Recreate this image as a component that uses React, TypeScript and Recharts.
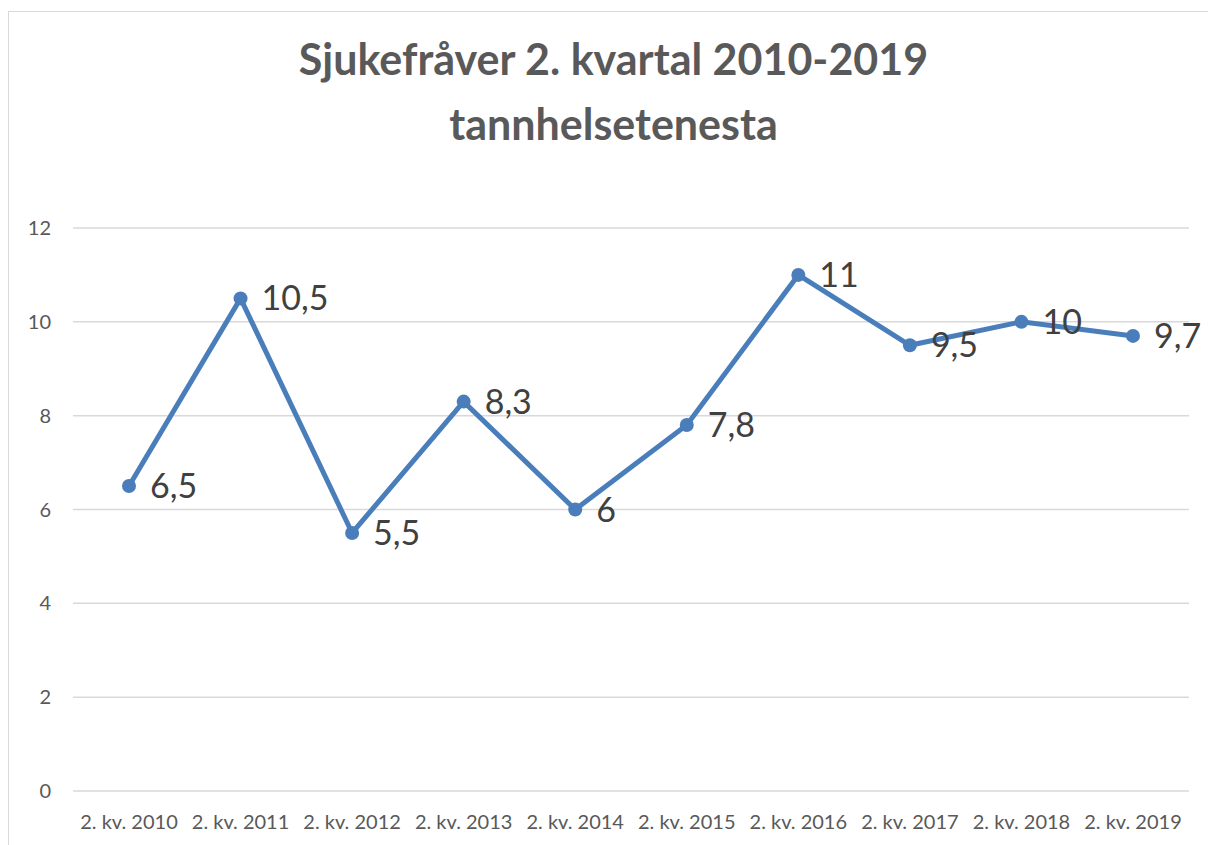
import { LineChart, Line, XAxis, YAxis, CartesianGrid, LabelList } from "recharts";

// kategoriar og verdiar lest av biletet
const quarters = [
  "2. kv. 2010",
  "2. kv. 2011",
  "2. kv. 2012",
  "2. kv. 2013",
  "2. kv. 2014",
  "2. kv. 2015",
  "2. kv. 2016",
  "2. kv. 2017",
  "2. kv. 2018",
  "2. kv. 2019",
];
const sickLeave = [6.5, 10.5, 5.5, 8.3, 6, 7.8, 11, 9.5, 10, 9.7];
const yTicks = [0, 2, 4, 6, 8, 10, 12];

const data = quarters.map((q, i) => ({ name: q, value: sickLeave[i] }));

const FONT = "Lato, 'Open Sans', sans-serif";

export default function App() {
  return (
    <div
      style={{
        position: "absolute",
        left: 0,
        top: 0,
        width: 1208,
        height: 845,
        overflow: "hidden",
        background: "#fff",
        fontFamily: FONT,
      }}
    >
      {/* chart frame */}
      <div
        style={{
          position: "absolute",
          left: 8,
          top: 11,
          width: 1260,
          height: 900,
          border: "1.5px solid #d9d9d9",
        }}
      />
      {/* title */}
      <div
        style={{
          position: "absolute",
          left: 0,
          top: 26,
          width: 1227,
          textAlign: "center",
          fontSize: 43,
          fontWeight: 700,
          color: "#595959",
          lineHeight: "65px",
        }}
      >
        Sjukefråver 2. kvartal 2010-2019
        <br />
        tannhelsetenesta
      </div>
      <div style={{ position: "absolute", left: 0, top: 0 }}>
        <LineChart
          width={1208}
          height={845}
          data={data}
          margin={{ top: 228, right: 19, bottom: 0, left: 0 }}
        >
          <CartesianGrid vertical={false} stroke="#d9d9d9" strokeWidth={1.5} />
          <XAxis
            dataKey="name"
            height={54}
            padding={{ left: 56, right: 56 }}
            axisLine={false}
            tickLine={false}
            tickSize={0}
            tickMargin={24}
            interval={0}
            tick={{ fill: "#595959", fontSize: 20, fontFamily: FONT }}
          />
          <YAxis
            width={73}
            domain={[0, 12]}
            ticks={yTicks}
            axisLine={false}
            tickLine={false}
            tickSize={0}
            tickMargin={22}
            tick={{ fill: "#595959", fontSize: 20, fontFamily: FONT }}
          />
          <Line
            type="linear"
            dataKey="value"
            stroke="#4a7ebb"
            strokeWidth={5}
            dot={{ r: 7, fill: "#4a7ebb", stroke: "#4a7ebb", strokeWidth: 0 }}
            isAnimationActive={false}
          >
            <LabelList
              dataKey="value"
              position="right"
              offset={21}
              formatter={(v: number) => String(v).replace(".", ",")}
              style={{ fill: "#404040", fontSize: 34, fontFamily: FONT }}
            />
          </Line>
        </LineChart>
      </div>
    </div>
  );
}
